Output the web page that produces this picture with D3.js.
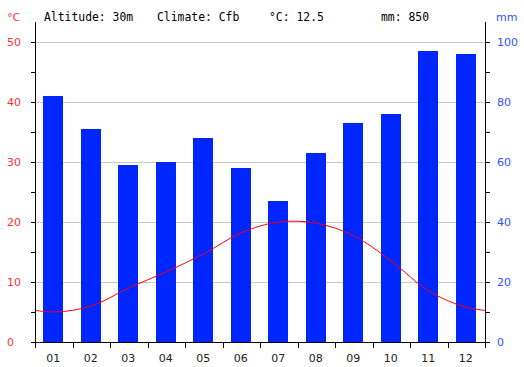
<!DOCTYPE html>
<html>
<head>
  <meta charset="utf-8">
  <script src="https://d3js.org/d3.v7.min.js"></script>
  <style>
    body { margin: 0; background: #fff; }
    svg text { font-family: "DejaVu Sans", sans-serif; }
  </style>
</head>
<body>
  <script type="text/javascript">
    // Climate data
    var months = ["01", "02", "03", "04", "05", "06", "07", "08", "09", "10", "11", "12"];
    var precip = [82, 71, 59, 60, 68, 58, 47, 63, 73, 76, 97, 96];
    var temp = [5.0, 6.0, 9.0, 11.7, 14.7, 18.2, 20.0, 19.8, 17.7, 13.5, 8.5, 5.8];
    var tempTicks = [0, 10, 20, 30, 40, 50];
    var precipTicks = [0, 20, 40, 60, 80, 100];
    var header = ["Altitude: 30m", "Climate: Cfb", "°C: 12.5", "mm: 850"];

    var width = 524, height = 367;
    var plotLeft = 35, plotRight = 485, plotTop = 42, plotBottom = 342;

    var svg = d3.select("body").append("svg")
      .attr("width", width)
      .attr("height", height);

    var x = d3.scaleBand().domain(months).range([plotLeft, plotRight]);
    var yT = d3.scaleLinear().domain([0, 50]).range([plotBottom, plotTop]);
    var yP = d3.scaleLinear().domain([0, 100]).range([plotBottom, plotTop]);

    // Gridlines
    svg.selectAll("line.grid")
      .data(tempTicks.slice(1))
      .enter().append("line")
      .attr("x1", plotLeft).attr("x2", plotRight)
      .attr("y1", function(d) { return yT(d) + 0.5; })
      .attr("y2", function(d) { return yT(d) + 0.5; })
      .attr("stroke", "#c8c8c8").attr("stroke-width", 1);

    // Bars
    var bw = 20;
    svg.selectAll("rect.bar")
      .data(precip)
      .enter().append("rect")
      .attr("x", function(d, i) { return Math.round(x(months[i]) + x.bandwidth() / 2 - bw / 2 - 0.5); })
      .attr("y", function(d) { return yP(d); })
      .attr("width", bw)
      .attr("height", function(d) { return plotBottom - yP(d); })
      .attr("fill", "#0026ff");

    // Temperature line, wrapped to the edges and clipped
    svg.append("clipPath").attr("id", "clip")
      .append("rect").attr("x", plotLeft).attr("y", 0)
      .attr("width", plotRight - plotLeft).attr("height", height);
    var step = x.step();
    var pts = [[x(months[0]) + step / 2 - step, temp[11]]];
    temp.forEach(function(t, i) { pts.push([x(months[i]) + step / 2, t]); });
    pts.push([x(months[11]) + step / 2 + step, temp[0]]);
    var line = d3.line()
      .x(function(d) { return d[0]; })
      .y(function(d) { return yT(d[1]); })
      .curve(d3.curveCatmullRom.alpha(0.5));
    svg.append("path")
      .attr("d", line(pts))
      .attr("clip-path", "url(#clip)")
      .attr("fill", "none")
      .attr("stroke", "#ff0000")
      .attr("stroke-width", 1);

    // Axes
    var axisColor = "#000";
    svg.append("line").attr("x1", plotLeft + 0.5).attr("x2", plotLeft + 0.5)
      .attr("y1", 22).attr("y2", plotBottom + 6).attr("stroke", axisColor);
    svg.append("line").attr("x1", plotRight + 0.5).attr("x2", plotRight + 0.5)
      .attr("y1", 22).attr("y2", plotBottom + 6).attr("stroke", axisColor);
    svg.append("line").attr("x1", plotLeft - 4).attr("x2", plotRight + 4)
      .attr("y1", plotBottom + 0.5).attr("y2", plotBottom + 0.5).attr("stroke", axisColor);

    // Minor ticks every 5 degrees
    var minor = d3.range(0, 51, 5);
    svg.selectAll("line.lt").data(minor).enter().append("line")
      .attr("x1", plotLeft - 4).attr("x2", plotLeft)
      .attr("y1", function(d) { return Math.round(yT(d)) + 0.5; })
      .attr("y2", function(d) { return Math.round(yT(d)) + 0.5; })
      .attr("stroke", axisColor);
    svg.selectAll("line.rt").data(minor).enter().append("line")
      .attr("x1", plotRight).attr("x2", plotRight + 5)
      .attr("y1", function(d) { return Math.round(yT(d)) + 0.5; })
      .attr("y2", function(d) { return Math.round(yT(d)) + 0.5; })
      .attr("stroke", axisColor);

    // Month boundary ticks
    var bounds = months.map(function(m) { return x(m); }).concat([plotRight]);
    svg.selectAll("line.xt").data(bounds).enter().append("line")
      .attr("x1", function(d) { return Math.round(d) + 0.5; })
      .attr("x2", function(d) { return Math.round(d) + 0.5; })
      .attr("y1", plotBottom).attr("y2", plotBottom + 6)
      .attr("stroke", axisColor);

    // Tick labels
    svg.selectAll("text.tl").data(tempTicks).enter().append("text")
      .attr("x", 7).attr("y", function(d) { return yT(d); })
      .attr("dy", "0.36em")
      .attr("font-size", "11px").attr("fill", "#ff3030")
      .text(function(d) { return d; });
    svg.selectAll("text.pl").data(precipTicks).enter().append("text")
      .attr("x", 497).attr("y", function(d) { return yP(d); })
      .attr("dy", "0.36em")
      .attr("font-size", "11px").attr("fill", "#3050ff")
      .text(function(d) { return d; });
    svg.selectAll("text.ml").data(months).enter().append("text")
      .attr("x", function(d) { return x(d) + x.bandwidth() / 2 - 0.5; })
      .attr("y", 358).attr("dy", "0.36em")
      .attr("text-anchor", "middle")
      .attr("font-size", "11px").attr("fill", "#222")
      .text(function(d) { return d; });

    // Header
    svg.append("text").attr("x", 7).attr("y", 21)
      .attr("font-size", "11px").attr("fill", "#ff3030").text("°C");
    svg.append("text").attr("x", 496).attr("y", 21)
      .attr("font-size", "11px").attr("fill", "#3050ff").text("mm");
    var hx = [44, 157, 269, 381];
    svg.selectAll("text.hd").data(header).enter().append("text")
      .attr("x", function(d, i) { return hx[i]; })
      .attr("y", 21)
      .style("font-family", "'DejaVu Sans Mono', monospace")
      .attr("font-size", "11.4px").attr("fill", "#000")
      .text(function(d) { return d; });
  </script>
</body>
</html>
